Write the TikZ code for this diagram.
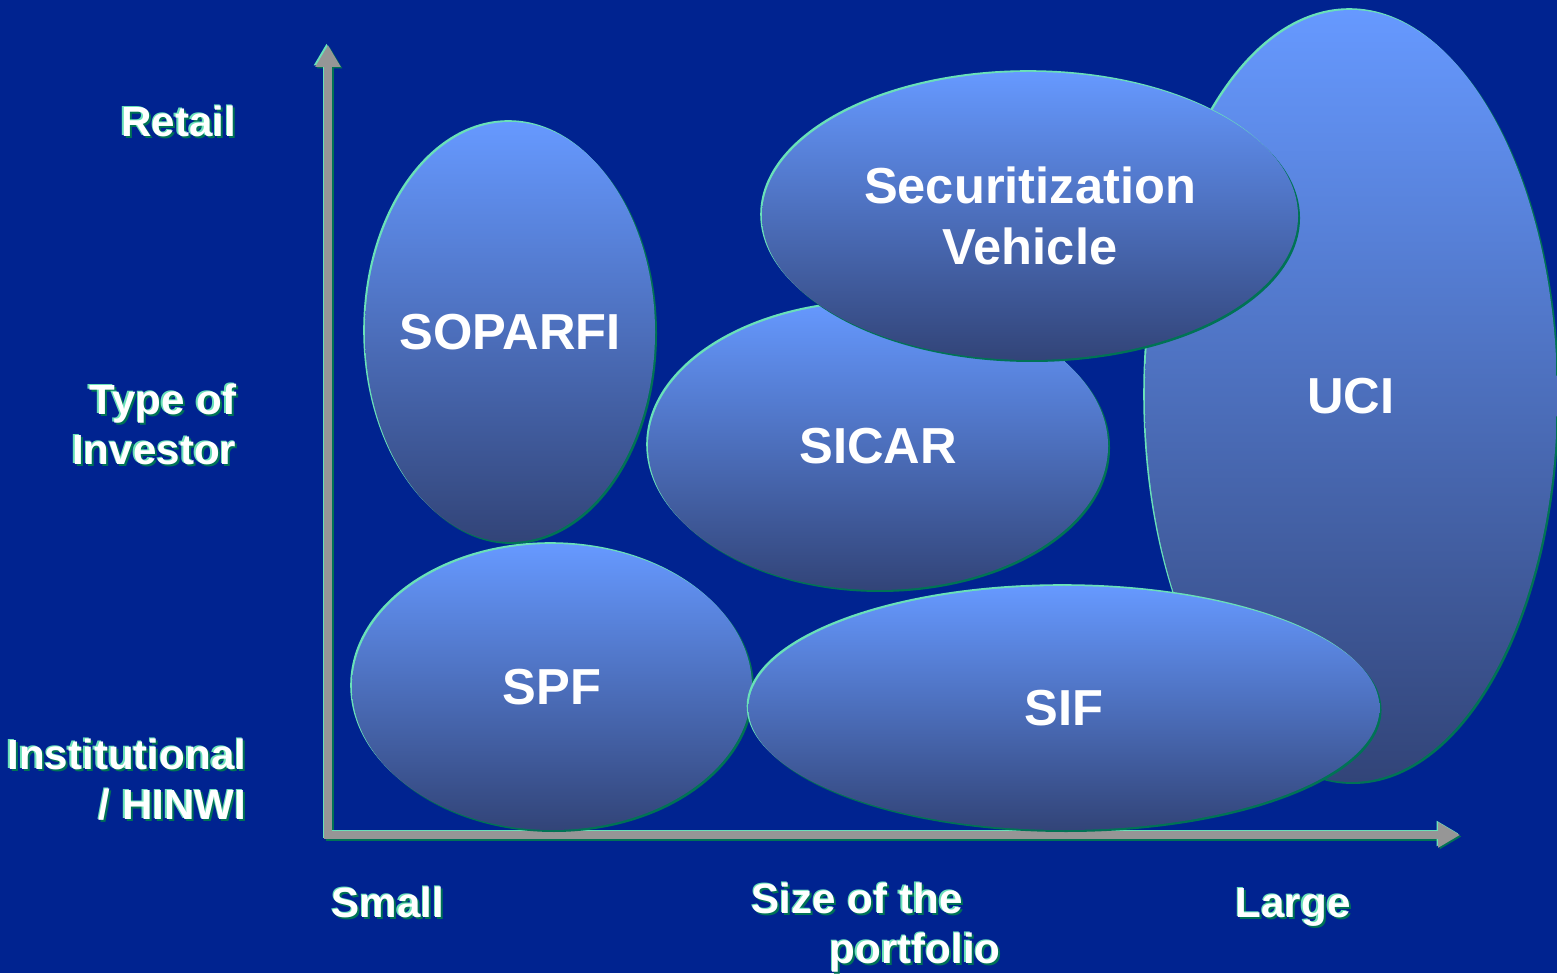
\documentclass[tikz,border=0pt]{standalone}
\usepackage{fontspec}
\setmainfont{Liberation Sans}
\usetikzlibrary{shapes.geometric,arrows.meta}
\definecolor{bg}{RGB}{0,35,144}
\definecolor{blobtop}{RGB}{102,153,255}
\definecolor{blobbot}{RGB}{50,68,120}
\definecolor{bevlight}{RGB}{105,225,185}
\definecolor{bevdark}{RGB}{0,115,85}
\definecolor{axisgrey}{RGB}{150,150,150}
\newcommand\embtxt[1]{\leavevmode\rlap{\kern0.02cm\raisebox{-0.02cm}{\color{bevdark}#1}}\rlap{\kern-0.015cm\raisebox{0.015cm}{\color{bevlight}#1}}#1}
\begin{document}
\begin{tikzpicture}[
  blob/.style={ellipse, inner xsep=-0.8cm, inner ysep=-0.3cm, top color=blobtop, bottom color=blobbot,
    preaction={fill=bevdark, transform canvas={shift={(0.02,-0.02)}}},
    preaction={fill=bevlight, transform canvas={shift={(-0.018,0.018)}}},
    text=white, align=center, font=\bfseries\fontsize{14.4}{17.5}\selectfont},
  axlabel/.style={inner sep=0pt, text=white, font=\bfseries\fontsize{12}{14.2}\selectfont},
  axis/.style={line width=0.08cm, line join=miter,
    arrows={Triangle[length=0.22cm,width=0.24cm]-Triangle[length=0.22cm,width=0.24cm]}}]
\useasboundingbox (0,0) rectangle (15.57,9.73);
\fill[bg] (0,0) rectangle (15.57,9.73);
\coordinate (o) at (3.28,1.38);
\coordinate (ytop) at (3.28,9.28);
\coordinate (xend) at (14.60,1.38);
\foreach \c/\s in {bevdark/{0.015,-0.015},bevlight/{-0.015,0.015},axisgrey/{0,0}}
  \draw[axis, draw=\c, transform canvas={shift={(\s)}}] (ytop) -- (o) -- (xend);
\foreach \n/\x/\y/\w/\h/\t in {uci/13.51/5.77/4.12/7.72/UCI, sicar/8.78/5.27/4.60/2.88/SICAR,
  secu/10.30/7.57/5.36/2.88/{Securitization\\Vehicle}, soparfi/5.10/6.41/2.90/4.20/SOPARFI,
  spf/5.52/2.86/4.00/2.86/SPF, sif/10.64/2.65/6.31/2.44/SIF}
  \node[blob, minimum width=\w cm, minimum height=\h cm] (\n) at (\x,\y) {\t};
\node[axlabel, anchor=east] (retail) at (2.37,8.51) {\embtxt{Retail}};
\node[axlabel, anchor=east, align=right] (type) at (2.37,5.48) {\embtxt{Type of}\\\embtxt{Investor}};
\node[axlabel, anchor=east, align=right] (inst) at (2.47,1.93) {\embtxt{Institutional}\\\embtxt{/ HINWI}};
\node[axlabel, anchor=west] (small) at (3.31,0.70) {\embtxt{Small}};
\node[axlabel, anchor=west, align=left] (size) at (7.51,0.45) {\embtxt{Size of the}\\\hspace*{0.78cm}\embtxt{portfolio}};
\node[axlabel, anchor=west] (large) at (12.35,0.65) {\embtxt{Large}};
\end{tikzpicture}
\end{document}
